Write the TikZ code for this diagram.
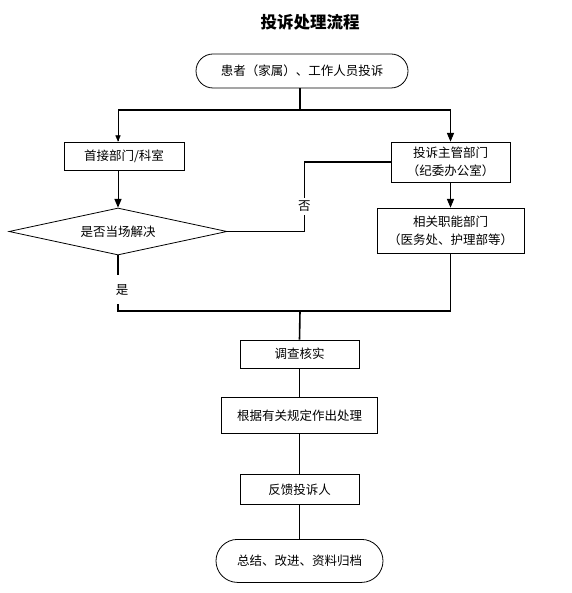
\documentclass[tikz,border=0pt]{standalone}
\usepackage{fontspec}
\setmainfont{Noto Sans CJK SC}
\usetikzlibrary{arrows,positioning,shapes.geometric}

\begin{document}
\begin{tikzpicture}[x=1pt,y=-1pt,>=triangle 45,node distance=29pt,
  every node/.style={font=\fontsize{12.5}{18}\selectfont,inner sep=0pt},
  box/.style={draw,line width=0.8pt,align=center},
  term/.style={draw,line width=0.8pt},
  choice/.style={draw,diamond,aspect=4.6,line width=0.8pt,minimum width=218pt,minimum height=47pt},
  line/.style={line width=1.6pt},
  flow/.style={->,line width=1pt},
  tag/.style={fill=white,inner xsep=1pt}]
\useasboundingbox (0,0) rectangle (571,593);
\node (title) at (310,22) {\fontsize{16.5}{20}\selectfont\bfseries 投诉处理流程};
\node[term,rounded corners=17pt,minimum width=212pt,minimum height=34pt] (start) at (302,71) {患者（家属）、工作人员投诉};
\node[box,minimum width=120pt,minimum height=28pt] (first) at (124,156) {首接部门/科室};
\node[box,minimum width=119pt,minimum height=40pt] (office) at (450.5,162) {投诉主管部门\\（纪委办公室）};
\node[choice] (ask) at (118,231.5) {是否当场解决};
\node[box,minimum width=147pt,minimum height=45pt] (dept) at (450.5,230.5) {相关职能部门\\（医务处、护理部等）};
\node[box,minimum width=119pt,minimum height=28pt] (check) at (299.5,354) {调查核实};
\node[box,minimum width=156pt,minimum height=36pt,below=of check] (deal) {根据有关规定作出处理};
\node[box,minimum width=119pt,minimum height=30pt,below=40pt of deal] (reply) {反馈投诉人};
\node[term,rounded corners=21.5pt,minimum width=167pt,minimum height=43pt,below=34pt of reply] (archive) {总结、改进、资料归档};
\coordinate (split) at (300,110);
\coordinate (join) at (300,311);
\draw[line] (split |- start.south) -- (split);
\draw[line] (split) -| (office.north |- split);
\draw[line] (split) -| (ask.north |- split);
\draw[->,thin] (ask.north |- split) -- (ask.north |- first.north);
\draw[flow] (office.north |- split) -- (office.north);
\draw[flow] (first.south -| ask.north) -- (ask.north);
\draw[flow] (office.south) -- (dept.north);
\draw[line] (ask.east) -- ++(77,0) |- node[tag,pos=0.18,inner ysep=3pt] {否} (office.west);
\draw[line] (ask.south) -- node[tag,pos=0.62,inner ysep=9pt,xshift=4pt] {是} (ask.south |- join) -- (join -| dept.south) -- (dept.south);
\draw[line] (join) -- (check.north);
\draw[line] (check) -- (deal);
\draw[line] (deal) -- (reply);
\draw[line] (reply) -- (archive);
\end{tikzpicture}
\end{document}
